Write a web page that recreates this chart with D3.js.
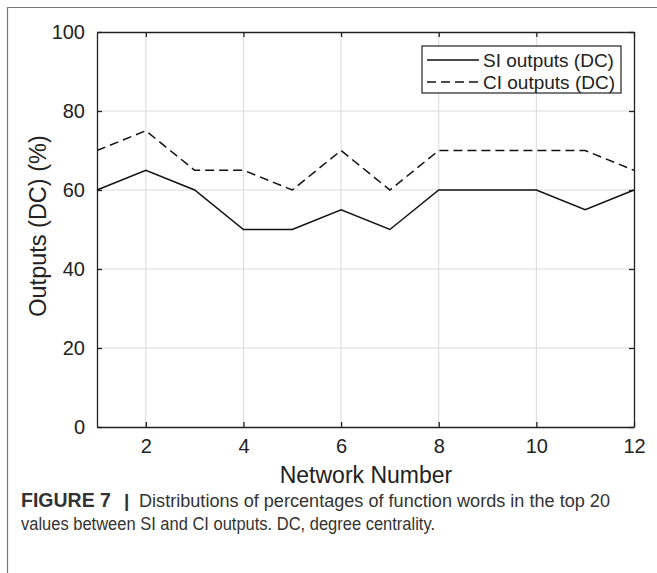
<!DOCTYPE html>
<html>
<head>
<meta charset="utf-8">
<script src="https://cdn.jsdelivr.net/npm/d3@7"></script>
<style>
  body { margin: 0; background: #fff; }
  svg text { font-family: "Liberation Sans", Arial, sans-serif; }
</style>
</head>
<body>
<svg id="chart" width="657" height="573"></svg>
<script>
// ------------------
// Data
// ------------------
const networks = [1, 2, 3, 4, 5, 6, 7, 8, 9, 10, 11, 12];
const siOutputs = [60, 65, 60, 50, 50, 55, 50, 60, 60, 60, 55, 60];
const ciOutputs = [70, 75, 65, 65, 60, 70, 60, 70, 70, 70, 70, 65];
const xTicks = [2, 4, 6, 8, 10, 12];
const yTicks = [0, 20, 40, 60, 80, 100];
const seriesNames = ["SI outputs (DC)", "CI outputs (DC)"];

const svg = d3.select("#chart");

// figure frame (top + left rule)
svg.append("line").attr("x1", 7).attr("x2", 657).attr("y1", 7.5).attr("y2", 7.5)
  .attr("stroke", "#777").attr("stroke-width", 1.2);
svg.append("line").attr("x1", 7.5).attr("x2", 7.5).attr("y1", 7).attr("y2", 573)
  .attr("stroke", "#777").attr("stroke-width", 1.2);

const plot = { left: 97, right: 634, top: 32, bottom: 427 };

const x = d3.scaleLinear().domain([1, 12]).range([plot.left, plot.right]);
const y = d3.scaleLinear().domain([0, 100]).range([plot.bottom, plot.top]);

// grid
const grid = svg.append("g");
grid.selectAll("line.gx").data(xTicks.filter(t => t < 12)).enter().append("line")
  .attr("x1", d => x(d)).attr("x2", d => x(d))
  .attr("y1", plot.top).attr("y2", plot.bottom)
  .attr("stroke", "#d9d9d9").attr("stroke-width", 1);
grid.selectAll("line.gy").data(yTicks.filter(t => t > 0 && t < 100)).enter().append("line")
  .attr("x1", plot.left).attr("x2", plot.right)
  .attr("y1", d => y(d)).attr("y2", d => y(d))
  .attr("stroke", "#d9d9d9").attr("stroke-width", 1);

// axes (MATLAB style, ticks inward)
const xAxis = svg.append("g").attr("transform", `translate(0,${plot.bottom})`)
  .call(d3.axisBottom(x).tickValues(xTicks).tickSizeInner(-5).tickSizeOuter(0).tickPadding(12));
const yAxis = svg.append("g").attr("transform", `translate(${plot.left},0)`)
  .call(d3.axisLeft(y).tickValues(yTicks).tickSizeInner(-5).tickSizeOuter(0).tickPadding(12));
const xTop = svg.append("g").attr("transform", `translate(0,${plot.top})`)
  .call(d3.axisTop(x).tickValues(xTicks).tickSizeInner(-5).tickSizeOuter(0).tickFormat(""));
const yRight = svg.append("g").attr("transform", `translate(${plot.right},0)`)
  .call(d3.axisRight(y).tickValues(yTicks).tickSizeInner(-5).tickSizeOuter(0).tickFormat(""));

[xAxis, yAxis, xTop, yRight].forEach(a => {
  a.select(".domain").attr("stroke", "#222").attr("stroke-width", 1.3);
  a.selectAll(".tick line").attr("stroke", "#222").attr("stroke-width", 1.3);
  a.selectAll("text").attr("fill", "#222").style("font-size", "20px")
    .style("font-family", "'Liberation Sans', Arial, sans-serif");
});

// lines
const line = d3.line().x((d, i) => x(networks[i])).y(d => y(d));
svg.append("path").datum(siOutputs).attr("d", line)
  .attr("fill", "none").attr("stroke", "#111").attr("stroke-width", 1.5);
svg.append("path").datum(ciOutputs).attr("d", line)
  .attr("fill", "none").attr("stroke", "#111").attr("stroke-width", 1.5)
  .attr("stroke-dasharray", "9,5");

// axis titles
svg.append("text").attr("x", 366).attr("y", 483)
  .attr("text-anchor", "middle").style("font-size", "23px").attr("fill", "#222")
  .text("Network Number");
svg.append("text")
  .attr("transform", `translate(46,226) rotate(-90)`)
  .attr("text-anchor", "middle").style("font-size", "23.5px").attr("fill", "#222")
  .text("Outputs (DC) (%)");

// legend
const lg = svg.append("g");
lg.append("rect").attr("x", 422).attr("y", 46).attr("width", 199).attr("height", 47)
  .attr("fill", "#fff").attr("stroke", "#222").attr("stroke-width", 1.2);
seriesNames.forEach((name, i) => {
  const ly = 60 + i * 22;
  lg.append("line").attr("x1", 427).attr("x2", 479).attr("y1", ly).attr("y2", ly)
    .attr("stroke", "#111").attr("stroke-width", 1.5)
    .attr("stroke-dasharray", i === 1 ? "9,5" : null);
  lg.append("text").attr("x", 483).attr("y", ly).attr("dy", "0.35em")
    .style("font-size", "19px").attr("fill", "#222").text(name);
});

// caption
const capY1 = 507, capY2 = 530;
svg.append("text").attr("x", 21).attr("y", capY1)
  .style("font-size", "19.5px").attr("font-weight", "bold").attr("fill", "#333")
  .text("FIGURE 7");
svg.append("text").attr("x", 124).attr("y", capY1)
  .style("font-size", "19px").attr("font-weight", "bold").attr("fill", "#333")
  .text("|");
svg.append("text").attr("x", 139).attr("y", capY1)
  .style("font-size", "17.5px").attr("fill", "#333")
  .attr("textLength", 471).attr("lengthAdjust", "spacingAndGlyphs")
  .text("Distributions of percentages of function words in the top 20");
svg.append("text").attr("x", 21).attr("y", capY2)
  .style("font-size", "17.5px").attr("fill", "#333")
  .attr("textLength", 414).attr("lengthAdjust", "spacingAndGlyphs")
  .text("values between SI and CI outputs. DC, degree centrality.");
</script>
</body>
</html>
